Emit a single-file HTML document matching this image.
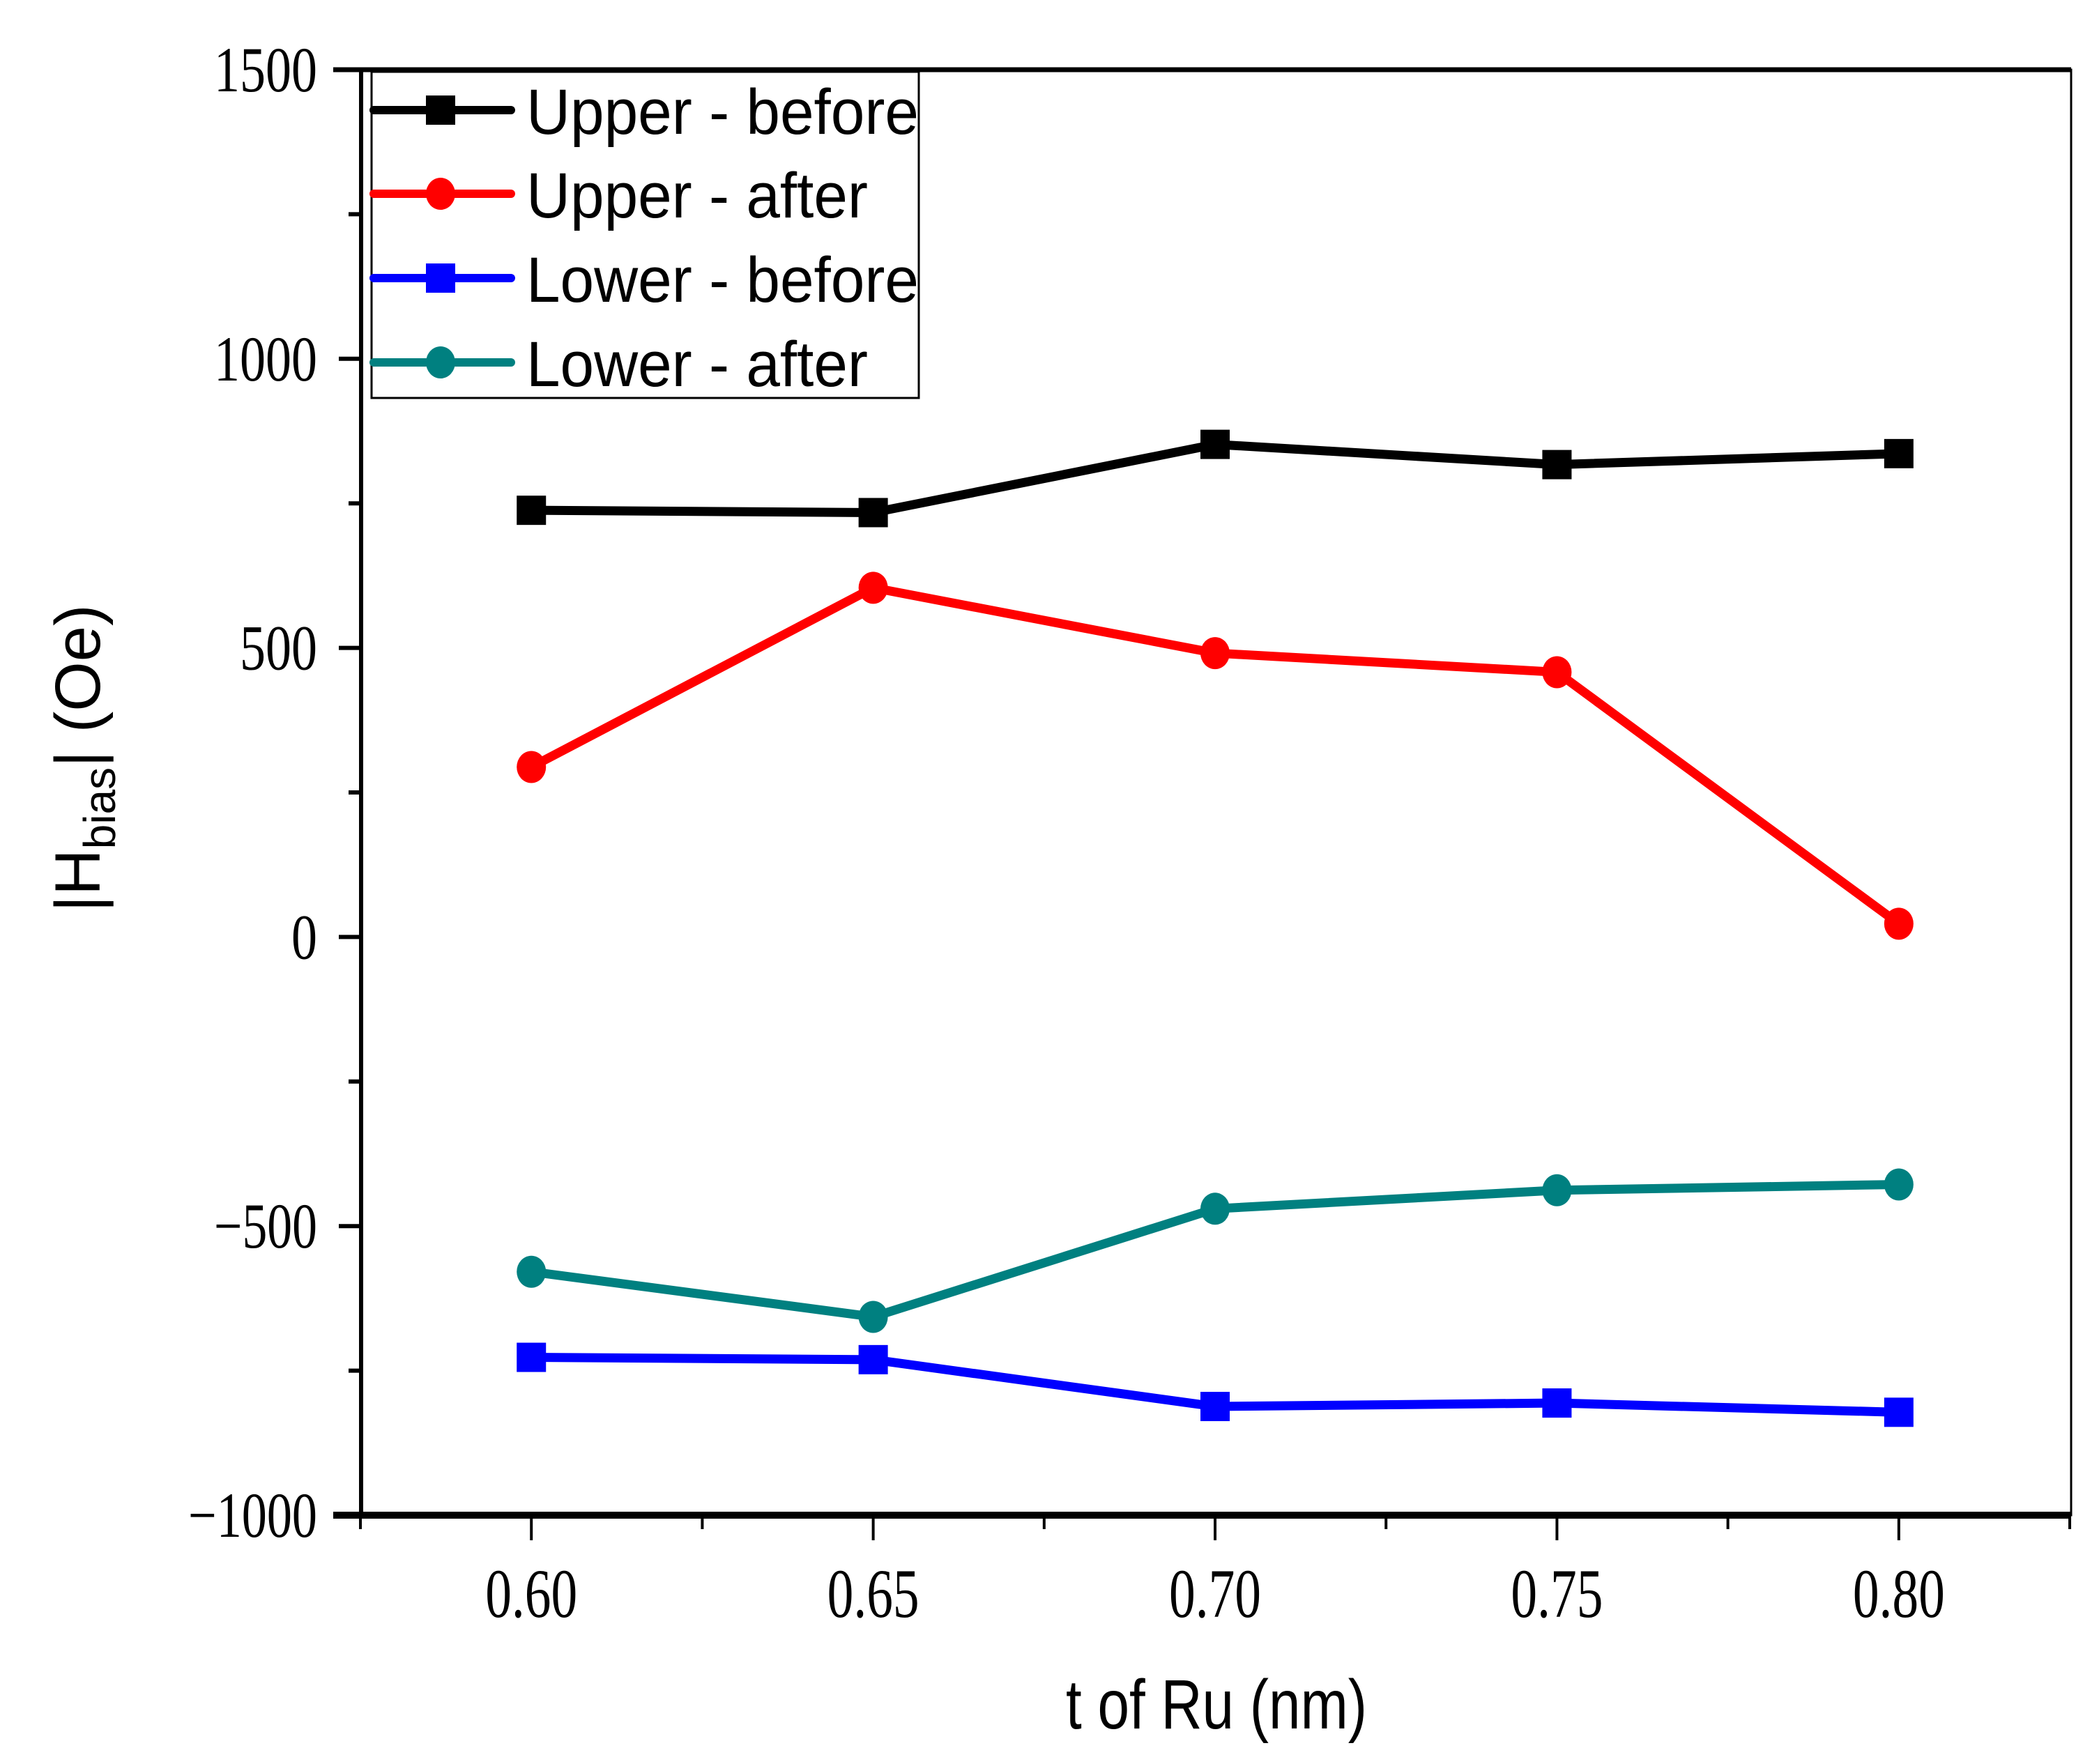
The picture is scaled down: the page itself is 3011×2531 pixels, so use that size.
<!DOCTYPE html>
<html><head><meta charset="utf-8"><style>html,body{margin:0;padding:0;background:#fff}svg{display:block}</style></head>
<body>
<svg id="chart" width="3011" height="2531" viewBox="0 0 3011 2531" xmlns="http://www.w3.org/2000/svg">
<rect width="3011" height="2531" fill="#fff"/>
<g id="plot"></g>
</svg>
<script>
const categories = [0.60, 0.65, 0.70, 0.75, 0.80];
const upperBefore = [738, 734, 852, 817, 836];
const upperAfter = [294, 604, 491, 458, 23];
const lowerBefore = [-727, -731, -812, -806, -822];
const lowerAfter = [-579, -657, -470, -438, -428];
const seriesNames = ["Upper - before", "Upper - after", "Lower - before", "Lower - after"];
const xTickLabels = ["0.60", "0.65", "0.70", "0.75", "0.80"];
const yTickValues = [-1000, -500, 0, 500, 1000, 1500];
const yTickLabels = ["\u22121000", "\u2212500", "0", "500", "1000", "1500"];

const NS = "http://www.w3.org/2000/svg";
const L = 518, R = 2971, T = 100, B = 2174;
const xMin = 0.5751, xMax = 0.8252, yMin = -1000, yMax = 1500;
const xs = v => L + (v - xMin) / (xMax - xMin) * (R - L);
const ys = v => B - (v - yMin) / (yMax - yMin) * (B - T);
const g = document.getElementById('plot');
function mk(tag, attrs, parent) {
  const e = document.createElementNS(NS, tag);
  for (const k in attrs) e.setAttribute(k, attrs[k]);
  (parent || g).appendChild(e);
  return e;
}
let e = mk('rect', {x: L, y: T, width: R - L, height: B - T, fill: 'none', stroke: '#000', 'stroke-width': 3});


e = mk('line', {x1: L - 40, y1: B, x2: R, y2: B, stroke: '#000', 'stroke-width': 10});


e = mk('line', {x1: L, y1: T, x2: L, y2: B, stroke: '#000', 'stroke-width': 6});


e = mk('line', {x1: L - 40, y1: T, x2: R, y2: T, stroke: '#000', 'stroke-width': 7});


for (let v = -1000; v <= 1500; v += 250) {
  const major = v % 500 === 0;
  e = mk('line', {x1: L - (major ? 32 : 18), y1: ys(v), x2: L, y2: ys(v), stroke: '#000', 'stroke-width': 6});
  
  
}
yTickValues.forEach((v, i) => {
  const lbl = yTickLabels[i];
  const t = mk('text', {x: 455, y: ys(v) + 31, 'text-anchor': 'end', 'font-family': '"Liberation Serif", serif', 'font-size': 92, textLength: lbl.length * 37, lengthAdjust: 'spacingAndGlyphs'});
  t.textContent = lbl;
  
  
});
for (let k = 0; k <= 10; k++) {
  const v = 0.575 + k * 0.025;
  const major = k % 2 === 1;
  e = mk('line', {x1: xs(v), y1: B, x2: xs(v), y2: B + (major ? 36 : 20), stroke: '#000', 'stroke-width': 4});
  
  
}
categories.forEach((v, i) => {
  const t = mk('text', {x: xs(v), y: 2320, 'text-anchor': 'middle', 'font-family': '"Liberation Serif", serif', 'font-size': 100, textLength: 132, lengthAdjust: 'spacingAndGlyphs'});
  t.textContent = xTickLabels[i];
  
  
});
let xt = mk('text', {x: 1745, y: 2480, 'text-anchor': 'middle', 'font-family': '"Liberation Sans", sans-serif', 'font-size': 100, textLength: 432, lengthAdjust: 'spacingAndGlyphs'});
xt.textContent = 't of Ru (nm)';


let yt = mk('text', {x: 0, y: 0, 'text-anchor': 'middle', 'font-family': '"Liberation Sans", sans-serif', 'font-size': 92, transform: 'translate(143,1088) rotate(-90)'});
yt.innerHTML = '|H<tspan font-size="64" dy="22">bias</tspan><tspan dy="-22">| (Oe)</tspan>';



const allSeries = [upperBefore, upperAfter, lowerBefore, lowerAfter];
const colors = ['#000000', '#ff0000', '#0000ff', '#008080'];
const shapes = ['sq', 'ci', 'sq', 'ci'];
function marker(x, y, shape, color, parent) {
  let m;
  if (shape === 'sq') m = mk('rect', {x: x - 21, y: y - 21, width: 42, height: 42, fill: color}, parent);
  else m = mk('ellipse', {cx: x, cy: y, rx: 21, ry: 23, fill: color}, parent);
  return m;
}
allSeries.forEach((s, si) => {
  const sg = mk('g', {});
  
  
  const pts = s.map((v, i) => xs(categories[i]) + ',' + ys(v)).join(' ');
  const pl = mk('polyline', {points: pts, fill: 'none', stroke: colors[si], 'stroke-width': 13, 'stroke-linejoin': 'round'}, sg);
  
  
  s.forEach((v, i) => {
    const m = marker(xs(categories[i]), ys(v), shapes[si], colors[si], sg);
    
    
  });
});
const lg = mk('g', {});


mk('rect', {x: 533, y: 103, width: 785, height: 468, fill: '#fff', stroke: '#000', 'stroke-width': 3}, lg);
const legY = [158, 278, 399, 520];
seriesNames.forEach((n, i) => {
  const eg = mk('g', {}, lg);
  
  
  mk('line', {x1: 536, y1: legY[i], x2: 733, y2: legY[i], stroke: colors[i], 'stroke-width': 12, 'stroke-linecap': 'round'}, eg);
  marker(632, legY[i], shapes[i], colors[i], eg);
  const t = mk('text', {x: 755, y: legY[i] + 34, 'font-family': '"Liberation Sans", sans-serif', 'font-size': 92, textLength: (i % 2 === 0 ? 563 : 490), lengthAdjust: 'spacingAndGlyphs'}, eg);
  t.textContent = n;
});
</script>
</body></html>
